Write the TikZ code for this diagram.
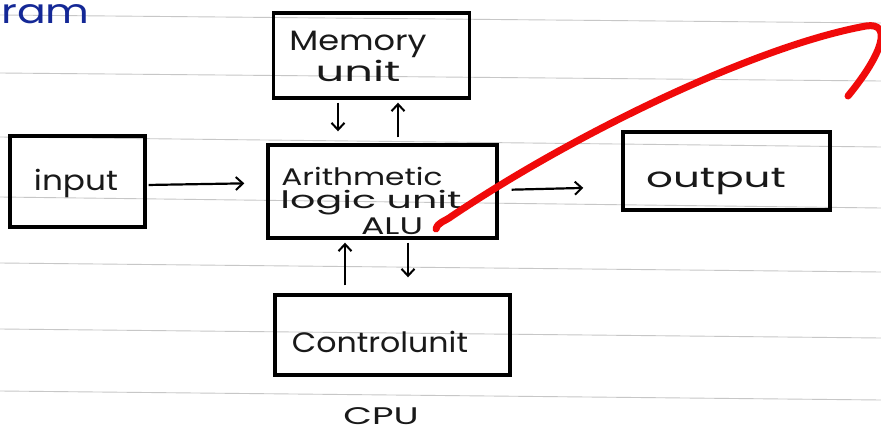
\documentclass[tikz,border=0pt]{standalone}
\usepackage{fontspec}
\setmainfont{Poppins}
\usetikzlibrary{arrows.meta,calc}
\definecolor{inkblue}{RGB}{20,40,150}
\definecolor{redpen}{RGB}{240,10,10}
\newcommand{\hw}[2]{\scalebox{#1}[1]{#2}}
\tikzset{
  unitbox/.style={draw=black, line width=3.4pt, rectangle, inner sep=0pt},
  hand/.style={font=\fontsize{28}{30}\selectfont, text=black!90, align=center, inner sep=0pt},
  handsm/.style={hand, font=\fontsize{24}{26}\selectfont},
  arr/.style={line width=2.2pt, -{Straight Barb[length=7pt,width=13pt,line width=2pt]}},
  rule/.style={draw=black!22, line width=0.9pt},
}
\begin{document}
\begin{tikzpicture}[x=1pt,y=-1pt]
\useasboundingbox (0,0) rectangle (881,436);
\fill[white] (0,0) rectangle (881,436);
% ruled paper lines
\foreach \a/\b in {15/23, 73/81, 137/147, 197/208, 263/272, 329/338, 391/400}
  \draw[rule] (0,\a) -- (881,\b);
% blue heading fragment
\node[font=\fontsize{34}{36}\selectfont, text=inkblue, anchor=base west, inner sep=0pt] (head) at (1,24) {\hw{1.25}{ram}};
% boxes
\node[unitbox, minimum width=196pt, minimum height=85pt] (mem) at (371.5,55.5) {};
\node[unitbox, minimum width=229pt, minimum height=93pt] (alu) at (382.5,191.5) {};
\node[unitbox, minimum width=135pt, minimum height=91pt] (inp) at (77.5,181.5) {};
\node[unitbox, minimum width=207pt, minimum height=78pt] (out) at (726.5,171) {};
\node[unitbox, minimum width=235pt, minimum height=80pt] (ctl) at (392.5,335) {};
% texts
\node[hand] (t1) at (358,44) {\hw{1.2}{Memory}};
\node[hand] (t2) at (358,71) {\hw{1.6}{unit}};
\node[handsm] (t3) at (362,176) {\hw{1.3}{Arithmetic}};
\node[handsm] (t4) at (371,203) {\hw{1.65}{logic unit}};
\node[handsm] (t5) at (392,226) {\hw{1.45}{ALU}};
\node[hand] (t6) at (76,183) {\hw{1.17}{input}};
\node[hand] (t7) at (716,182) {\hw{1.5}{output}};
\node[hand] (t8) at (380,342) {\hw{1.13}{Controlunit}};
\node[handsm] (t9) at (381,416) {\hw{1.55}{CPU}};
% arrows
\draw[arr, shorten >=12pt, shorten <=3pt] ([xshift=-33.5pt]mem.south) -- ([xshift=-44.5pt]alu.north);
\draw[arr, shorten >=3pt, shorten <=6pt] ([xshift=15.5pt]alu.north) -- ([xshift=26.5pt]mem.south);
\draw[arr, shorten >=22pt, shorten <=2pt] ([yshift=-3.5pt]inp.east) -- ([yshift=8.5pt]alu.west);
\draw[arr, shorten >=38pt, shorten <=13pt] ([yshift=1.5pt]alu.east) -- ([yshift=-16pt]out.west);
\draw[arr, shorten >=3pt, shorten <=8pt] ([xshift=-47.5pt]ctl.north) -- ([xshift=-37.5pt]alu.south);
\draw[arr, shorten >=16pt, shorten <=3pt] ([xshift=25.5pt]alu.south) -- ([xshift=15.5pt]ctl.north);
% red annotation stroke
\draw[redpen, line width=7pt, line cap=round, line join=round]
  (436,229) .. controls (438,222) and (444,222) .. (452,216)
  .. controls (580,130) and (760,45) .. (866,26)
  .. controls (892,22) and (884,52) .. (848,96);
\end{tikzpicture}
\end{document}
